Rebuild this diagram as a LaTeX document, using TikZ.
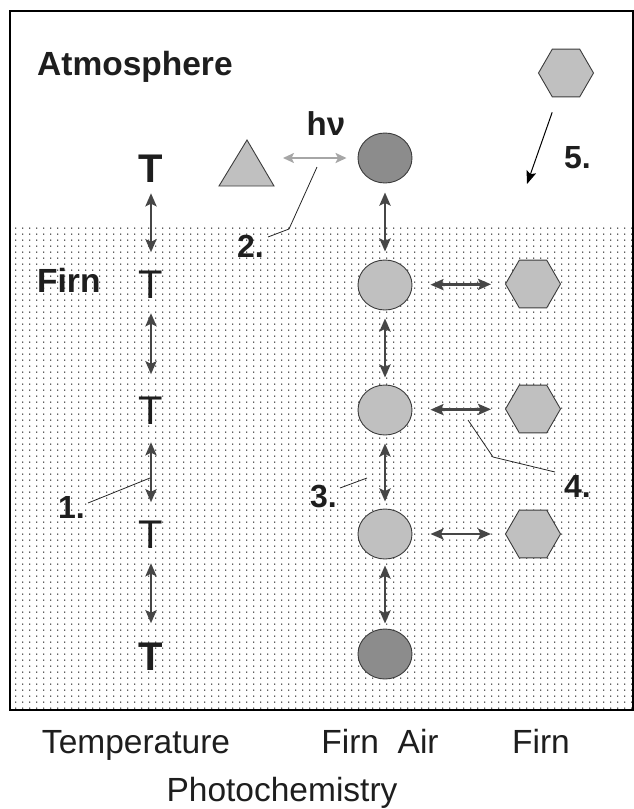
\documentclass[tikz,border=0pt]{standalone}
\usepackage{fontspec}
\setmainfont{Liberation Sans}
\usetikzlibrary{shapes.geometric,arrows.meta,patterns}

\pgfdeclarepatternformonly{firndots}{\pgfqpoint{0pt}{0pt}}{\pgfqpoint{7pt}{6.2pt}}{\pgfqpoint{7pt}{6.2pt}}{%
  \pgfpathcircle{\pgfqpoint{2pt}{2pt}}{0.85pt}%
  \pgfusepath{fill}}

\definecolor{lightfill}{RGB}{192,192,192}
\definecolor{darkfill}{RGB}{140,140,140}
\definecolor{edgegray}{RGB}{60,60,60}
\definecolor{arrgray}{RGB}{70,70,70}
\definecolor{txt}{RGB}{30,30,30}

\begin{document}
\begin{tikzpicture}[x=1pt,y=-1pt,
  lbl/.style={font=\fontsize{33.5}{36}\selectfont\bfseries, inner sep=0, anchor=base west, text=txt},
  num/.style={font=\fontsize{32}{36}\selectfont\bfseries, inner sep=0, anchor=base west, text=txt},
  bot/.style={font=\fontsize{33.5}{36}\selectfont, inner sep=0, anchor=base, text=txt},
  tee/.style={font=\fontsize{40}{44}\selectfont, inner sep=0, anchor=base, text=txt},
  teeb/.style={tee, font=\fontsize{40}{44}\selectfont\bfseries},
  blob/.style={ellipse, draw=edgegray, line width=0.9pt, minimum width=54pt, minimum height=50pt, inner sep=0},
  hexa/.style={regular polygon, regular polygon sides=6, draw=edgegray, line width=0.9pt, fill=lightfill, minimum size=55pt, inner sep=0},
  dbl/.style={{Stealth[length=13pt,width=11pt,inset=2.5pt]}-{Stealth[length=13pt,width=11pt,inset=2.5pt]}, line width=2.8pt, draw=arrgray},
  grayarr/.style={{Stealth[length=11pt,width=10pt,inset=2.5pt]}-{Stealth[length=11pt,width=10pt,inset=2.5pt]}, line width=2.6pt, draw=black!35},
  thinarr/.style={-{Stealth[length=13pt,width=10pt,inset=2.5pt]}, line width=1pt, draw=black},
  callout/.style={line width=0.8pt, draw=black!85}
]
\useasboundingbox (0,0) rectangle (634,809);

% firn region and frame
\fill[pattern=firndots, pattern color=black!85] (10,225) rectangle (633,710);
\draw[line width=1.3pt] (10,11) rectangle (633,710);

% labels
\node[lbl] (atm) at (37,75) {Atmosphere};
\node[lbl] (firnlbl) at (37,292) {Firn};
\node[font=\fontsize{33}{36}\selectfont\bfseries, inner sep=0, anchor=base, text=txt] (hnu) at (326,135) {hν};

% temperature column
\node[teeb] (T0) at (151,182) {T};
\node[tee]  (T1) at (151,298) {T};
\node[tee]  (T2) at (151,424) {T};
\node[tee]  (T3) at (151,548) {T};
\node[teeb] (T4) at (151,670) {T};
\draw[dbl, shorten <=11pt, shorten >=18pt] (T0.south) -- (T1.north);
\draw[dbl, shorten <=15pt, shorten >=22pt] (T1.south) -- (T2.north);
\draw[dbl, shorten <=18pt, shorten >=18pt] (T2.south) -- (T3.north);
\draw[dbl, shorten <=15pt, shorten >=19pt] (T3.south) -- (T4.north);

% photochemistry
\draw[draw=edgegray, line width=0.9pt, fill=lightfill] (219,186) -- (247,140) -- (274,186) -- cycle;
\coordinate (triR) at (283,158);

% firn air column
\node[blob, fill=darkfill]  (C0) at (385,158) {};
\node[blob, fill=lightfill] (C1) at (385,285) {};
\node[blob, fill=lightfill] (C2) at (385,410) {};
\node[blob, fill=lightfill] (C3) at (385,534) {};
\node[blob, fill=darkfill]  (C4) at (385,654) {};
\draw[grayarr, shorten >=11pt] (triR) -- (C0);
\draw[dbl, shorten <=9pt, shorten >=8pt] (C0) -- (C1);
\draw[dbl, shorten <=8pt, shorten >=7pt] (C1) -- (C2);
\draw[dbl, shorten <=8pt, shorten >=7pt] (C2) -- (C3);
\draw[dbl, shorten <=6pt, shorten >=5pt] (C3) -- (C4);

% firn column
\node[hexa] (H0) at (566,73) {};
\node[hexa] (H1) at (533,284) {};
\node[hexa] (H2) at (533,409) {};
\node[hexa] (H3) at (533,534) {};
\draw[dbl, shorten <=18pt, shorten >=14pt] (C1) -- (H1);
\draw[dbl, shorten <=18pt, shorten >=14pt] (C2) -- (H2);
\draw[dbl, shorten <=18pt, shorten >=14pt] (C3) -- (H3);
\coordinate (dep) at (527,184);
\draw[thinarr, shorten <=16pt] (H0) -- (dep);

% numbered callouts
\node[num] (n1) at (58,518) {1.};
\node[num] (n2) at (237,257) {2.};
\node[num, anchor=base east] (n3) at (337,507) {3.};
\node[num] (n4) at (564,497) {4.};
\node[num] (n5) at (564,168) {5.};
\coordinate (q1) at (88,503);
\coordinate (p1) at (150,478);
\coordinate (p2) at (317,167);
\coordinate (p3) at (367,478);
\coordinate (p4) at (468,420);
\draw[callout] (q1) -- (p1);
\draw[callout] (p2) -- (289,229) -- (268,237);
\draw[callout] (340,488) -- (p3);
\draw[callout] (p4) -- (493,457) -- (555,472);

% bottom captions
\node[bot] (capT) at (136,753) {Temperature};
\node[bot] (capFA) at (380,753) {Firn\ \ Air};
\node[bot] (capF) at (541,753) {Firn};
\node[bot] (capP) at (282,801) {Photochemistry};
\end{tikzpicture}
\end{document}
